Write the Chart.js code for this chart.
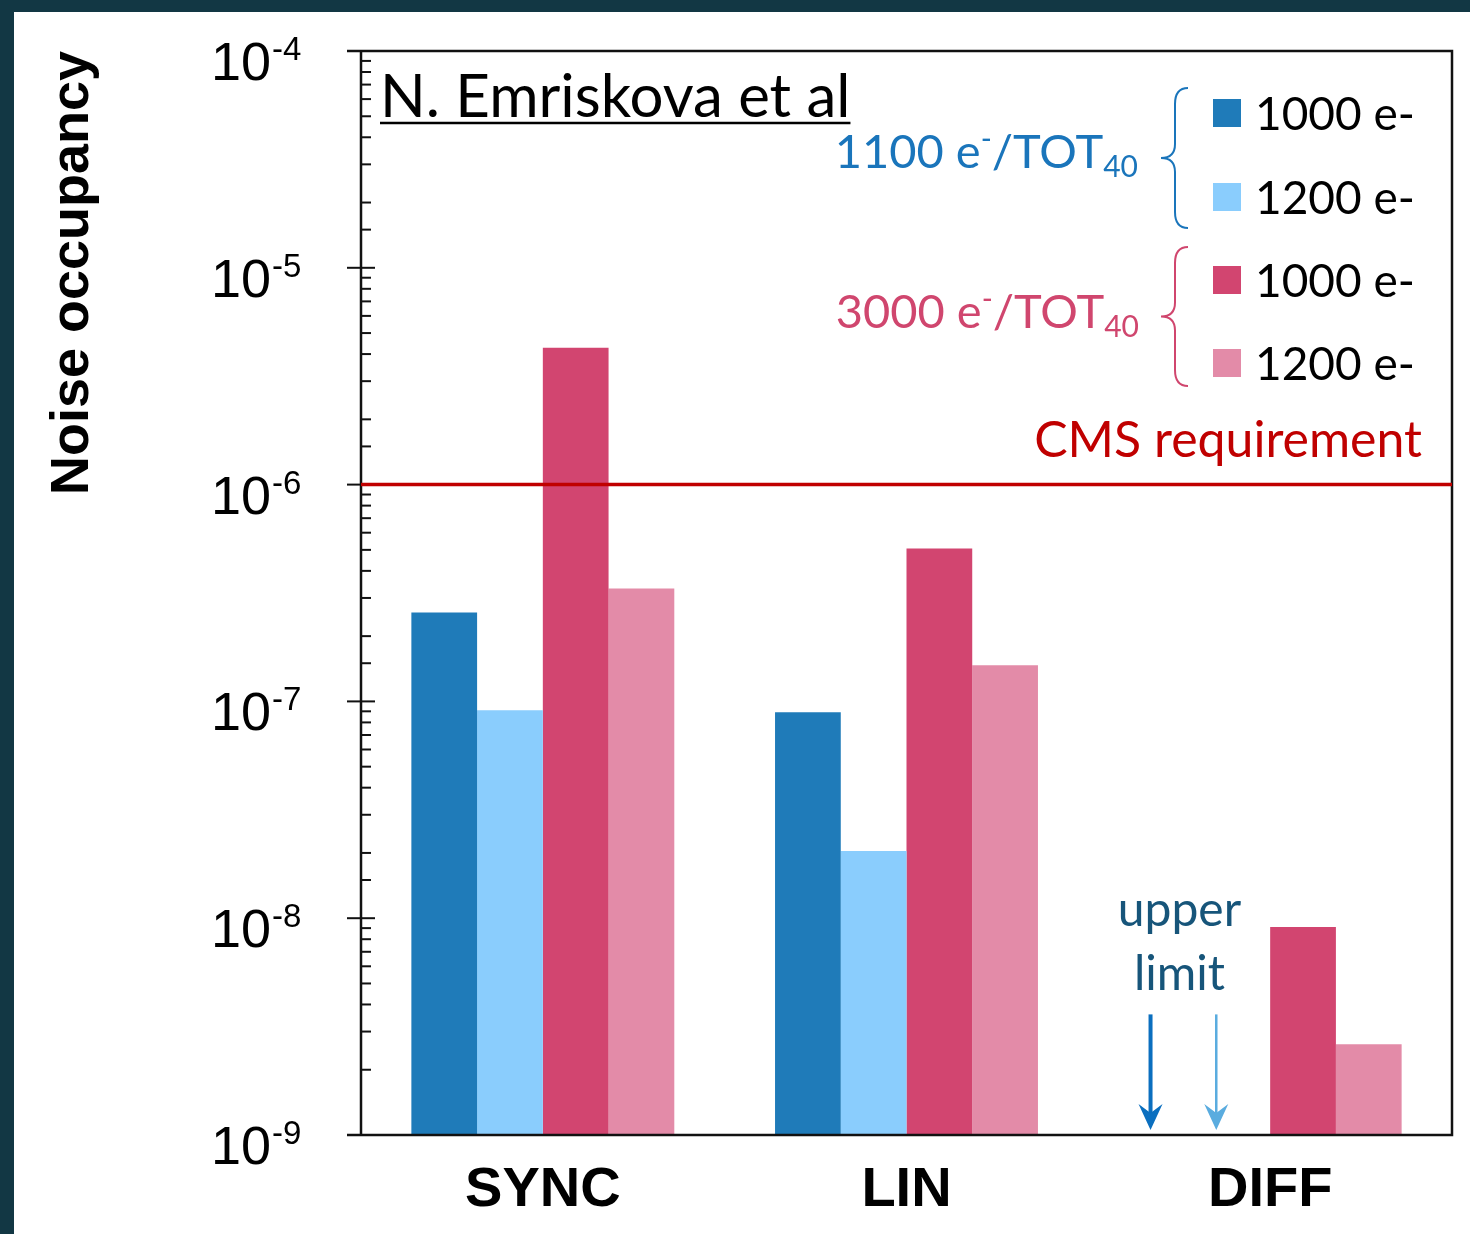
<!DOCTYPE html>
<html lang="en">
<head>
<meta charset="UTF-8">
<title>Noise occupancy</title>
<script src="https://cdn.jsdelivr.net/npm/chart.js"></script>
<style>
  body { margin: 0; background: #123744; width: 1470px; height: 1234px; overflow: hidden; position: relative; }
  #panel { position: absolute; left: 14px; top: 12px; width: 1456px; height: 1222px; background: #fff; }
  #chart { position: absolute; left: 0; top: 0; }
</style>
</head>
<body>
<div id="panel"></div>
<canvas id="chart" width="1470" height="1234"></canvas>
<script>
// data
const categories = ['SYNC', 'LIN', 'DIFF'];
const seriesLabels = ['1000 e-', '1200 e-', '1000 e-', '1200 e-'];
const tot1100_th1000 = [2.57e-7, 8.9e-8, null];
const tot1100_th1200 = [9.1e-8, 2.04e-8, null];
const tot3000_th1000 = [4.28e-6, 5.07e-7, 9.1e-9];
const tot3000_th1200 = [3.32e-7, 1.47e-7, 2.62e-9];
const seriesColors = ['#1f7bb9', '#8acdfd', '#d24570', '#e38ba8'];
const groupLabels = ['1100', '3000'];
const groupColors = ['#1a75bb', '#d0466e'];
const cmsRequirement = 1e-6;
// DIFF upper-limit arrows for the 1100 e-/TOT40 series (start value of each arrow)
const upperLimitTop = [3.6e-9, 3.6e-9];
const arrowColors = ['#0b6fbf', '#5aacdf'];
const yMin = 1e-9, yMax = 1e-4;

const BASE = "'Liberation Sans', Arial, sans-serif";
const SANS = "Lato, 'Open Sans', sans-serif";

function drawBrace(ctx, x, yTop, yBot, color) {
    const yMid = (yTop + yBot) / 2;
    ctx.save();
    ctx.strokeStyle = color;
    ctx.lineWidth = 2;
    ctx.beginPath();
    ctx.moveTo(x + 13, yTop);
    ctx.quadraticCurveTo(x, yTop, x, yTop + 16);
    ctx.lineTo(x, yMid - 14);
    ctx.quadraticCurveTo(x, yMid, x - 14, yMid);
    ctx.quadraticCurveTo(x, yMid, x, yMid + 14);
    ctx.lineTo(x, yBot - 16);
    ctx.quadraticCurveTo(x, yBot, x + 13, yBot);
    ctx.stroke();
    ctx.restore();
}

function drawArrow(ctx, x, yTop, yTip, color, w) {
    ctx.save();
    ctx.strokeStyle = color;
    ctx.fillStyle = color;
    ctx.lineWidth = w;
    ctx.beginPath();
    ctx.moveTo(x, yTop);
    ctx.lineTo(x, yTip - 12);
    ctx.stroke();
    ctx.beginPath();
    ctx.moveTo(x, yTip);
    ctx.lineTo(x - 12, yTip - 26);
    ctx.lineTo(x, yTip - 17);
    ctx.lineTo(x + 12, yTip - 26);
    ctx.closePath();
    ctx.fill();
    ctx.restore();
}

// "1100 e⁻/TOT₄₀" right aligned at xRight
function drawGroupLabel(ctx, num, xRight, baseline, color) {
    const big = '47px ' + SANS, small = '30px ' + SANS;
    const parts = [
        { t: num + ' e', f: big, dy: 0 },
        { t: '-', f: small, dy: -19 },
        { t: '/TOT', f: big, dy: 0 },
        { t: '40', f: small, dy: 9 }
    ];
    let total = 0;
    parts.forEach(p => { ctx.font = p.f; p.w = ctx.measureText(p.t).width; total += p.w; });
    let x = xRight - total;
    ctx.fillStyle = color;
    ctx.textAlign = 'left';
    ctx.textBaseline = 'alphabetic';
    parts.forEach(p => { ctx.font = p.f; ctx.fillText(p.t, x, baseline + p.dy); x += p.w; });
}

const decorPlugin = {
    id: 'decor',
    afterDatasetsDraw(chart) {
        const ctx = chart.ctx;
        const a = chart.chartArea;
        const ys = chart.scales.y;
        const xs = chart.scales.x;
        ctx.save();

        // frame
        ctx.strokeStyle = '#111';
        ctx.lineWidth = 2.5;
        ctx.beginPath();
        ctx.moveTo(a.left - 14, a.top);
        ctx.lineTo(a.right, a.top);
        ctx.lineTo(a.right, a.bottom);
        ctx.lineTo(a.left - 14, a.bottom);
        ctx.moveTo(a.left, a.top);
        ctx.lineTo(a.left, a.bottom);
        ctx.stroke();

        // ticks from the log scale
        ctx.lineWidth = 2;
        ys.ticks.forEach(t => {
            const y = ys.getPixelForValue(t.value);
            const exp = Math.log10(t.value);
            const major = Math.abs(exp - Math.round(exp)) < 1e-6;
            ctx.beginPath();
            if (major) {
                ctx.moveTo(a.left - 14, y);
                ctx.lineTo(a.left + 14, y);
            } else {
                ctx.moveTo(a.left, y);
                ctx.lineTo(a.left + 10, y);
            }
            ctx.stroke();
            if (major) {
                const e = Math.round(exp);
                const x0 = a.left - 150;
                ctx.fillStyle = '#000';
                ctx.textAlign = 'left';
                ctx.textBaseline = 'alphabetic';
                ctx.font = '54px ' + BASE;
                ctx.fillText('10', x0, y + 29);
                const w = ctx.measureText('10').width;
                ctx.font = '33px ' + BASE;
                ctx.fillText(String(e), x0 + w + 1, y + 9);
            }
        });

        // y title
        ctx.save();
        ctx.translate(88, a.top + 222);
        ctx.rotate(-Math.PI / 2);
        ctx.fillStyle = '#000';
        ctx.font = 'bold 54px ' + BASE;
        ctx.textAlign = 'center';
        ctx.textBaseline = 'alphabetic';
        ctx.fillText('Noise occupancy', 0, 0);
        ctx.restore();

        // CMS requirement line
        const yc = ys.getPixelForValue(cmsRequirement);
        ctx.strokeStyle = '#c00000';
        ctx.lineWidth = 3.5;
        ctx.beginPath();
        ctx.moveTo(a.left, yc);
        ctx.lineTo(a.right, yc);
        ctx.stroke();
        ctx.fillStyle = '#c00000';
        ctx.font = '50px ' + SANS;
        ctx.textAlign = 'right';
        ctx.fillText('CMS requirement', a.right - 30, yc - 28);

        // author note
        ctx.fillStyle = '#000';
        ctx.font = '60px ' + SANS;
        ctx.textAlign = 'left';
        const note = 'N. Emriskova et al';
        ctx.fillText(note, a.left + 19, a.top + 66);
        const nw = ctx.measureText(note).width;
        ctx.lineWidth = 2.5;
        ctx.strokeStyle = '#000';
        ctx.beginPath();
        ctx.moveTo(a.left + 19, a.top + 72);
        ctx.lineTo(a.left + 19 + nw, a.top + 72);
        ctx.stroke();

        // legend
        const rowY = [113, 197, 280, 363];
        seriesLabels.forEach((lab, i) => {
            ctx.fillStyle = seriesColors[i];
            ctx.fillRect(1213, rowY[i] - 14, 28, 28);
            ctx.fillStyle = '#000';
            ctx.font = '46px ' + SANS;
            ctx.textAlign = 'left';
            ctx.textBaseline = 'middle';
            ctx.fillText(lab, 1255, rowY[i] + 2);
        });
        ctx.textBaseline = 'alphabetic';
        drawBrace(ctx, 1175, 88, 228, groupColors[0]);
        drawBrace(ctx, 1175, 247, 386, groupColors[1]);
        drawGroupLabel(ctx, groupLabels[0], 1138, 168, groupColors[0]);
        drawGroupLabel(ctx, groupLabels[1], 1139, 328, groupColors[1]);

        // upper limit arrows on DIFF
        const cDiff = xs.getPixelForValue(2);
        const catW = xs.getPixelForValue(1) - xs.getPixelForValue(0);
        const barW = catW * 0.723 / 4;
        upperLimitTop.forEach((v, i) => {
            const x = cDiff + (i - 1.5) * barW - 0.32 * barW;
            drawArrow(ctx, x, ys.getPixelForValue(v), a.bottom - 5, arrowColors[i], i === 0 ? 4 : 2.5);
        });
        ctx.fillStyle = '#17557a';
        ctx.font = '48px ' + SANS;
        ctx.textAlign = 'center';
        const tx = cDiff - 1.38 * barW;
        ctx.fillText('upper', tx, 926);
        ctx.fillText('limit', tx, 990);

        ctx.restore();
    }
};

const ctx = document.getElementById('chart').getContext('2d');
new Chart(ctx, {
    type: 'bar',
    data: {
        labels: categories,
        datasets: [
            { label: seriesLabels[0], data: tot1100_th1000, backgroundColor: seriesColors[0] },
            { label: seriesLabels[1], data: tot1100_th1200, backgroundColor: seriesColors[1] },
            { label: seriesLabels[2], data: tot3000_th1000, backgroundColor: seriesColors[2] },
            { label: seriesLabels[3], data: tot3000_th1200, backgroundColor: seriesColors[3] }
        ]
    },
    options: {
        responsive: false,
        animation: false,
        layout: { padding: { left: 0, top: 51, right: 18, bottom: 0 } },
        datasets: { bar: { barPercentage: 1, categoryPercentage: 0.723 } },
        plugins: { legend: { display: false }, tooltip: { enabled: false } },
        scales: {
            x: {
                grid: { display: false, drawTicks: false },
                border: { display: false },
                ticks: { color: '#000', font: { family: BASE, size: 56, weight: 'bold' }, padding: 22 },
                afterFit: s => { s.height = 99; }
            },
            y: {
                type: 'logarithmic',
                min: yMin,
                max: yMax,
                grid: { display: false, drawTicks: false },
                border: { display: false },
                ticks: { display: false },
                afterFit: s => { s.width = 361; }
            }
        }
    },
    plugins: [decorPlugin]
});
</script>
</body>
</html>
